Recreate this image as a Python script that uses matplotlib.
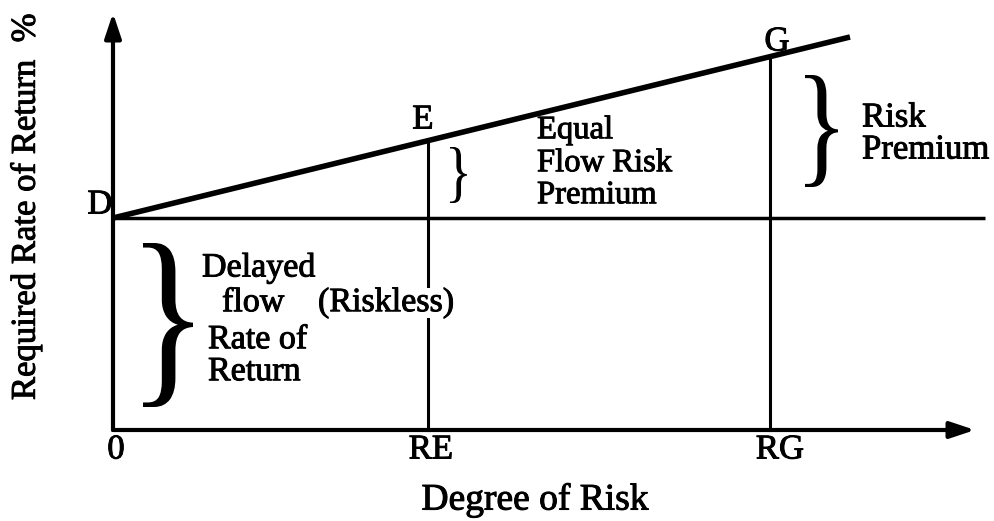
# Required rate of return vs degree of risk (diagram)
import numpy as np
import matplotlib
matplotlib.use('Agg')
import matplotlib.pyplot as plt
import matplotlib.patheffects as pe
from matplotlib.textpath import TextPath
from matplotlib.font_manager import FontProperties
from matplotlib.patches import PathPatch
from matplotlib.transforms import Affine2D

plt.rcParams['font.family'] = ['Liberation Serif', 'DejaVu Serif']

# values (x = degree of risk, y = required rate)
riskless_rate = 2.12
risk_ticks = [0, 3.15, 6.57]
risk_labels = ['0', 'RE', 'RG']
line_x = [0, 7.37]
line_y = [2.12, 3.93]
point_names = ['E', 'G']
point_x = [3.15, 6.57]
point_y = [2.89, 3.73]
x_axis_end = 8.62
y_axis_end = 4.17
flat_end = 8.72

fp = FontProperties(family='Liberation Serif')
heavy = [pe.withStroke(linewidth=0.7, foreground='black')]


def brace(ax, x0, x1, y0, y1):
    # a "}" glyph stretched into the box
    tp = TextPath((0, 0), '}', size=1, prop=fp)
    ext = tp.get_extents()
    tr = (Affine2D().translate(-ext.x0, -ext.y0)
          .scale((x1 - x0) / ext.width, (y1 - y0) / ext.height)
          .translate(x0, y0))
    ax.add_patch(PathPatch(tr.transform_path(tp), fc='black', ec='none'))


def label(x, y, s, size=25, **kw):
    kw.setdefault('ha', 'left')
    ax.text(x, y, s, va='center', fontsize=size, path_effects=heavy, zorder=5, **kw)


fig = plt.figure(figsize=(9.95, 5.21), dpi=100)
ax = fig.add_axes([0, 0, 1, 1])
ax.set_xlim(-1.13, 8.82)
ax.set_ylim(-0.91, 4.30)
ax.axis('off')

# axes with arrow heads
for end in [(x_axis_end, 0), (0, y_axis_end)]:
    ax.annotate('', xy=end, xytext=(0, 0),
                arrowprops=dict(arrowstyle='-|>,head_length=1.5,head_width=0.5', lw=3, color='black',
                                shrinkA=0, shrinkB=0))

# riskless rate and required return line
ax.plot([0, flat_end], [riskless_rate, riskless_rate], color='black', lw=2.5, solid_capstyle='butt')
ax.plot(line_x, line_y, color='black', lw=4, solid_capstyle='butt')
for px, py in zip(point_x, point_y):
    ax.plot([px, px], [0, py], color='black', lw=2.2)

label(risk_ticks[0] + 0.03, -0.2, risk_labels[0], ha='center')
label(risk_ticks[1] + 0.03, -0.2, risk_labels[1], ha='center')
label(risk_ticks[2] + 0.10, -0.2, risk_labels[2], ha='center')
label(-0.13, riskless_rate + 0.13, 'D', ha='center')
label(point_x[0] - 0.05, point_y[0] + 0.21, point_names[0], ha='center')
label(point_x[1] + 0.07, point_y[1] + 0.15, point_names[1], ha='center')

label(4.22, -0.70, 'Degree of Risk', size=27, ha='center')
ax.text(-0.87, 2.24, 'Required Rate of Return  %', ha='center', va='center',
        rotation=90, fontsize=25, path_effects=heavy)

# braces
brace(ax, 0.30, 0.80, 0.23, 1.87)
brace(ax, 3.37, 3.54, 2.27, 2.83)
brace(ax, 6.92, 7.25, 2.43, 3.55)

# annotations
label(0.89, 1.62, 'Delayed', size=24.5)
label(1.09, 1.27, 'flow', size=24.5)
label(2.05, 1.27, '(Riskless)', size=24.5,
      bbox=dict(facecolor='white', edgecolor='none', pad=0))
label(0.95, 0.90, 'Rate of', size=24.5)
label(0.95, 0.58, 'Return', size=24.5)

label(4.24, 3.00, 'Equal', size=23.5)
label(4.24, 2.67, 'Flow Risk', size=23.5)
label(4.24, 2.35, 'Premium', size=23.5)

label(7.49, 3.12, 'Risk')
label(7.49, 2.80, 'Premium')

fig.savefig('out.png', dpi=100)
